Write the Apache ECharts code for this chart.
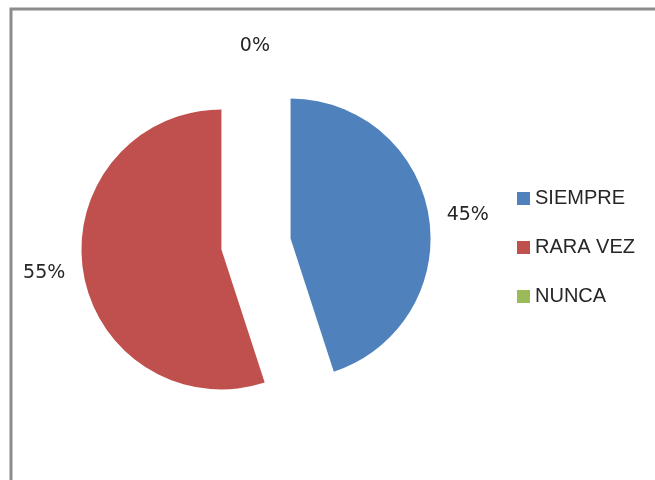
<!DOCTYPE html>
<html>
<head>
<meta charset="utf-8">
<script src="https://cdn.jsdelivr.net/npm/echarts@6/dist/echarts.min.js"></script>
<style>
  html, body { margin: 0; padding: 0; background: #fff; }
  #chart { width: 655px; height: 480px; }
</style>
</head>
<body>
<div id="chart"></div>
<script>
// respuestas de la encuesta (%)
const categories = ['SIEMPRE', 'RARA VEZ', 'NUNCA']
const percents = [45, 55, 0]
const colors = ['#4f81bd', '#c0504d', '#9bbb59']
// pequeños ajustes de las etiquetas, como las coloca Excel
const labelOffsets = [[0, 1], [-2, 8], [19, 0]]

const chart = echarts.init(document.getElementById('chart'))

const data = categories.map((name, i) => {
  const item = {
    name: name,
    value: percents[i],
    selected: i < 2,
    itemStyle: { color: colors[i] },
    label: { offset: labelOffsets[i] }
  }
  // la etiqueta del 0% queda arriba, centrada
  if (percents[i] === 0) {
    item.labelLine = { show: false, length: 58, length2: 0 }
  }
  return item
})

const option = {
  animation: false,
  backgroundColor: '#fff',
  graphic: [
    {
      type: 'rect',
      shape: { x: 11, y: 9, width: 700, height: 520 },
      style: { fill: 'none', stroke: '#8c8c8c', lineWidth: 3 },
      silent: true
    }
  ],
  legend: {
    orient: 'vertical',
    left: 512,
    top: 183,
    itemWidth: 13,
    itemHeight: 13,
    itemGap: 28,
    icon: 'rect',
    data: categories,
    textStyle: {
      fontFamily: 'Liberation Sans',
      fontSize: 20,
      color: '#262626',
      lineHeight: 21
    }
  },
  series: [
    {
      type: 'pie',
      center: [256, 244],
      radius: 140,
      startAngle: 90,
      clockwise: true,
      selectedMode: 'multiple',
      selectedOffset: 35,
      avoidLabelOverlap: false,
      emphasis: { disabled: true },
      label: {
        show: true,
        position: 'outside',
        formatter: '{d}%',
        fontFamily: 'DejaVu Sans',
        fontSize: 19,
        color: '#262626'
      },
      labelLine: { show: false, length: 13, length2: 0 },
      data: data
    }
  ]
}

chart.setOption(option)
</script>
</body>
</html>
